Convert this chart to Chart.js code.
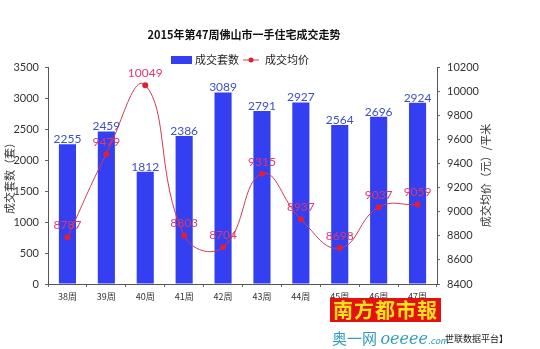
<!DOCTYPE html>
<html>
<head>
<meta charset="utf-8">
<script src="https://cdn.jsdelivr.net/npm/chart.js@4/dist/chart.umd.min.js"></script>
<style>
  html, body { margin: 0; padding: 0; background: #fff; }
  #wrap { position: relative; width: 540px; height: 349px; }
  .mark { position: absolute; font-family: "Noto Sans CJK SC", sans-serif; white-space: nowrap; }
  #paper { left: 330px; top: 298px; width: 111px; height: 24px; background: #e3110f; color: #ffe21c;
           font-size: 20px; font-weight: bold; line-height: 24px; text-align: center; letter-spacing: 1px; }
  #oeeee { left: 332px; top: 329px; color: #2f9db5; font-size: 15px; line-height: 18px; }
  #oeeee i { font-family: "DejaVu Serif", serif; font-size: 16px; }
  #oeeee small { font-size: 9px; font-style: italic; }
  #shilian { left: 445px; top: 333px; color: #222; font-size: 9px; line-height: 12px; }
</style>
</head>
<body>
<div id="wrap">
  <canvas id="chart" width="540" height="349"></canvas>
  <div class="mark" id="paper">南方都市報</div>
  <div class="mark" id="oeeee">奥一网 <i>oeeee</i><small>.com</small></div>
  <div class="mark" id="shilian">世联数据平台】</div>
</div>
<script>
// chart data
const weeks = ['38周', '39周', '40周', '41周', '42周', '43周', '44周', '45周', '46周', '47周'];
const dealUnits = [2255, 2459, 1812, 2386, 3089, 2791, 2927, 2564, 2696, 2924];
const avgPrice = [8787, 9479, 10049, 8803, 8704, 9315, 8937, 8698, 9037, 9059];

const BAR_COLOR = '#333ff0';
const BAR_LABEL = '#3f4fc4';
const LINE_COLOR = '#d23a50';
const LINE_LABEL = '#e0386a';
const FONT = '"Lato", "Noto Sans CJK SC", sans-serif';
const CJK = '"Noto Sans CJK SC", sans-serif';

const extras = {
    id: 'extras',
    afterDraw(chart) {
        const ctx = chart.ctx;
        const area = chart.chartArea;
        ctx.save();

        // title
        ctx.fillStyle = '#111';
        ctx.font = 'bold 11px ' + CJK;
        ctx.textAlign = 'center';
        ctx.textBaseline = 'middle';
        ctx.fillText('2015年第47周佛山市一手住宅成交走势', 244, 35);

        // legend
        ctx.fillStyle = BAR_COLOR;
        ctx.fillRect(171, 56, 21, 8);
        ctx.fillStyle = '#222';
        ctx.font = '11px ' + CJK;
        ctx.textAlign = 'left';
        ctx.fillText('成交套数', 195, 60);
        ctx.strokeStyle = LINE_COLOR;
        ctx.lineWidth = 1;
        ctx.beginPath();
        ctx.moveTo(243, 60);
        ctx.lineTo(259, 60);
        ctx.stroke();
        ctx.fillStyle = '#e02030';
        ctx.beginPath();
        ctx.arc(251, 60, 2.5, 0, Math.PI * 2);
        ctx.fill();
        ctx.fillStyle = '#222';
        ctx.fillText('成交均价', 265, 60);

        // axis titles, both reading bottom to top
        ctx.font = '11px ' + CJK;
        ctx.fillStyle = '#333';
        ctx.textAlign = 'center';
        const midY = (area.top + area.bottom) / 2;
        ctx.save();
        ctx.translate(10, midY);
        ctx.rotate(-Math.PI / 2);
        ctx.fillText('成交套数（套）', 0, 0);
        ctx.restore();
        ctx.save();
        ctx.translate(486, midY);
        ctx.rotate(-Math.PI / 2);
        ctx.fillText('成交均价（元）/平米', 0, 0);
        ctx.restore();

        // data labels (dataset 0 = line, dataset 1 = bars)
        ctx.font = '12px ' + FONT;
        ctx.textAlign = 'center';
        chart.getDatasetMeta(1).data.forEach((bar, i) => {
            ctx.fillStyle = BAR_LABEL;
            ctx.textBaseline = 'bottom';
            ctx.fillText(String(dealUnits[i]), bar.x, bar.y + 1);
        });
        chart.getDatasetMeta(0).data.forEach((pt, i) => {
            ctx.fillStyle = LINE_LABEL;
            ctx.textBaseline = 'middle';
            ctx.fillText(String(avgPrice[i]), pt.x, pt.y - 12);
        });
        ctx.restore();
    }
};

const plainTick = (value) => String(value);

new Chart(document.getElementById('chart').getContext('2d'), {
    data: {
        labels: weeks,
        datasets: [
            {
                type: 'line',
                label: '成交均价',
                data: avgPrice,
                yAxisID: 'y1',
                borderColor: LINE_COLOR,
                borderWidth: 1,
                backgroundColor: '#e02030',
                pointRadius: 3,
                pointBorderWidth: 0,
                tension: 0.45,
                order: 0,
            },
            {
                type: 'bar',
                label: '成交套数',
                data: dealUnits,
                yAxisID: 'y',
                backgroundColor: BAR_COLOR,
                categoryPercentage: 1,
                barPercentage: 0.44,
                order: 1,
            },
        ],
    },
    options: {
        responsive: false,
        animation: false,
        layout: { padding: { top: 67, right: 0, left: 0, bottom: 0 } },
        plugins: {
            legend: { display: false },
            title: { display: false },
            tooltip: { enabled: false },
        },
        scales: {
            x: {
                grid: { display: true, drawOnChartArea: false, offset: true, color: '#666', tickLength: 3 },
                border: { color: '#555' },
                ticks: { color: '#333', font: { size: 9, family: CJK }, padding: 4, maxRotation: 0 },
                afterFit(scale) { scale.height = 65; },
            },
            y: {
                position: 'left',
                min: 0,
                max: 3500,
                ticks: { stepSize: 500, color: '#333', font: { size: 11, family: FONT }, padding: 6, callback: plainTick },
                grid: { display: true, drawOnChartArea: false, color: '#666', tickLength: 3 },
                border: { color: '#555' },
                afterFit(scale) { scale.width = 48; },
            },
            y1: {
                position: 'right',
                min: 8400,
                max: 10200,
                ticks: { stepSize: 200, color: '#333', font: { size: 11, family: FONT }, padding: 7, callback: plainTick },
                grid: { display: true, drawOnChartArea: false, color: '#666', tickLength: 3 },
                border: { color: '#555' },
                afterFit(scale) { scale.width = 103; },
            },
        },
    },
    plugins: [extras],
});
</script>
</body>
</html>
